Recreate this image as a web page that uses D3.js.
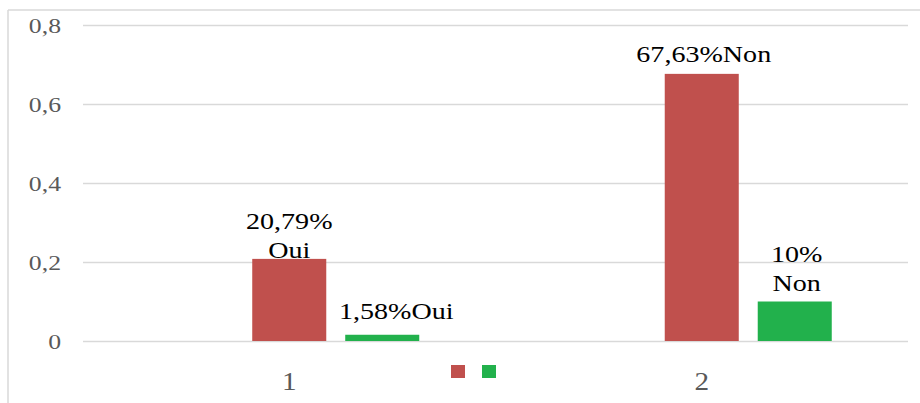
<!DOCTYPE html>
<html>
<head>
<meta charset="utf-8">
<script src="https://cdn.jsdelivr.net/npm/d3@7"></script>
<style>
  body { margin: 0; background: #fff; }
  svg { display: block; }
</style>
</head>
<body>
<div id="chart"></div>
<script>
// categorieen en waarden
const categories = ["1", "2"];
const seriesRood = [0.2079, 0.6763];
const seriesGroen = [0.0158, 0.10];
const labelsRood = [["20,79%", "Oui"], ["67,63%Non"]];
const labelsGroen = [["1,58%Oui"], ["10%", "Non"]];
const yTicks = [0, 0.2, 0.4, 0.6, 0.8];
const yTickLabels = ["0", "0,2", "0,4", "0,6", "0,8"];

const width = 920, height = 403;
const stretch = 1.17; // tekst is horizontaal uitgerekt in het origineel

const svg = d3.select("#chart").append("svg")
  .attr("width", width)
  .attr("height", height);

// kader (alleen links en boven zichtbaar)
svg.append("line").attr("x1", 8).attr("x2", 8).attr("y1", 10).attr("y2", height)
  .attr("stroke", "#d9d9d9").attr("stroke-width", 1.5);
svg.append("line").attr("x1", 8).attr("x2", width).attr("y1", 10).attr("y2", 10)
  .attr("stroke", "#d9d9d9").attr("stroke-width", 1.5);

const x0 = d3.scaleBand().domain(categories).range([83, 908]);
// drie plekken per categorie, de eerste is een lege reeks
const x1 = d3.scaleBand().domain(["leeg", "rood", "groen"])
  .range([-130, 130]).paddingInner(0.204);
const y = d3.scaleLinear().domain([0, 0.8]).range([341, 25]);

// rasterlijnen
svg.append("g").selectAll("line")
  .data(yTicks)
  .enter().append("line")
  .attr("x1", 83).attr("x2", 908)
  .attr("y1", d => Math.round(y(d)) + 0.5)
  .attr("y2", d => Math.round(y(d)) + 0.5)
  .attr("stroke", "#d9d9d9").attr("stroke-width", 1.3);

// y-as labels
const yAxis = d3.axisLeft(y).tickValues(yTicks)
  .tickFormat((d, i) => yTickLabels[i]).tickSize(0);
const gy = svg.append("g").attr("transform", "translate(61,0)").call(yAxis);
gy.select(".domain").remove();
gy.selectAll("text")
  .attr("x", 0)
  .attr("dy", "0.34em")
  .attr("transform", `scale(${stretch},1)`)
  .style("font-family", "'Liberation Serif', serif")
  .style("font-size", "22px")
  .style("fill", "#595959");

// x-as labels
const xAxis = d3.axisBottom(x0).tickSize(0);
const gx = svg.append("g").attr("transform", "translate(0,390)").call(xAxis);
gx.select(".domain").remove();
gx.selectAll(".tick text")
  .attr("y", 0).attr("dy", 0)
  .attr("transform", `scale(${stretch},1)`)
  .style("font-family", "'Liberation Serif', serif")
  .style("font-size", "25px")
  .style("fill", "#595959");

const reeksen = [
  { key: "rood", values: seriesRood, labels: labelsRood, color: "#c0504d",
    dx: [0, 2], dy: [1, 12] },
  { key: "groen", values: seriesGroen, labels: labelsGroen, color: "#22b14c",
    dx: [14, 2], dy: [16, 11] }
];

reeksen.forEach(function(s) {
  const g = svg.append("g");
  g.selectAll("rect")
    .data(s.values)
    .enter().append("rect")
    .attr("x", (d, i) => x0(categories[i]) + x0.bandwidth() / 2 + x1(s.key))
    .attr("width", x1.bandwidth())
    .attr("y", d => y(d))
    .attr("height", d => y(0) - y(d))
    .attr("fill", s.color);

  // datalabels
  s.values.forEach(function(v, i) {
    const cx = x0(categories[i]) + x0.bandwidth() / 2 + x1(s.key) + x1.bandwidth() / 2 + s.dx[i];
    const lines = s.labels[i];
    const baseY = y(v) - s.dy[i];
    lines.forEach(function(t, j) {
      svg.append("text")
        .attr("transform", `translate(${cx},${baseY - (lines.length - 1 - j) * 29}) scale(${stretch},1)`)
        .attr("text-anchor", "middle")
        .style("font-family", "'Liberation Serif', serif")
        .style("font-size", "24px")
        .style("fill", "#000")
        .text(t);
    });
  });
});

// legenda zonder tekst
const legend = svg.append("g").selectAll("rect")
  .data(reeksen)
  .enter().append("rect")
  .attr("x", (d, i) => 451 + i * 31)
  .attr("y", 365)
  .attr("width", 14)
  .attr("height", 13)
  .attr("fill", d => d.color);
</script>
</body>
</html>
